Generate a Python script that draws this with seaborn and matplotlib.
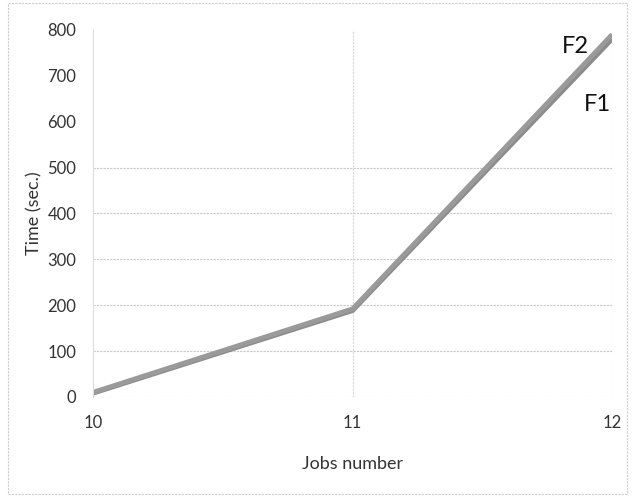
import matplotlib
matplotlib.use("Agg")
import matplotlib.pyplot as plt
import seaborn as sns
import pandas as pd
from matplotlib.patches import Rectangle

jobs = [10, 11, 12]
f1_time = [8, 188, 780]
f2_time = [10, 192, 790]
series_names = ["F1", "F2"]
y_ticks = [0, 100, 200, 300, 400, 500, 600, 700, 800]
x_ticks = [10, 11, 12]

df = pd.DataFrame({
    "Jobs number": jobs * 2,
    "Time (sec.)": f1_time + f2_time,
    "series": [series_names[0]] * 3 + [series_names[1]] * 3,
})

sns.set_theme(style="white")
plt.rcParams["font.family"] = ["Lato", "DejaVu Sans"]

fig = plt.figure(figsize=(6.33, 4.98), dpi=100)
ax = fig.add_axes([0.147, 0.203, 0.820, 0.737])

sns.lineplot(data=df, x="Jobs number", y="Time (sec.)", hue="series",
             palette={"F1": "#8c8c8c", "F2": "#9a9a9a"}, linewidth=3.4,
             legend=False, ax=ax)
for ln in ax.get_lines():
    ln.set_solid_capstyle("butt")

ax.set_xlim(10, 12)
ax.set_ylim(0, 800)
ax.set_xticks(x_ticks)
ax.set_yticks(y_ticks)
ax.tick_params(axis="both", length=0, labelsize=12, colors="#333333")
ax.tick_params(axis="y", pad=12)
ax.tick_params(axis="x", pad=13)

# horizontal gridlines and a vertical one at 11
for v in y_ticks[1:6]:
    ax.axhline(v, color="#c8c8c8", lw=0.8, ls=(0, (2, 1)), zorder=0)
ax.axvline(11, color="#d8d8d8", lw=0.8, ls=(0, (2, 1)), zorder=0)
ax.axhline(0, color="#d0d0d0", lw=0.8, ls=(0, (2, 1)), zorder=0)

for side in ["top", "right"]:
    ax.spines[side].set_visible(False)
ax.spines["left"].set_color("#dddddd")
ax.spines["left"].set_linestyle((0, (2, 1)))
ax.spines["left"].set_linewidth(0.8)
ax.spines["bottom"].set_visible(False)
ax.axvline(12, color="#dddddd", lw=0.8, ls=(0, (2, 1)), zorder=0)

ax.set_xlabel("Jobs number", fontsize=13, color="#333333", labelpad=18)
ax.set_ylabel("Time (sec.)", fontsize=13, color="#333333", labelpad=4)

ax.annotate(series_names[1], xy=(jobs[-1], f2_time[-1]), xytext=(-36, -13),
            textcoords="offset points", fontsize=17, color="#111111")
ax.annotate(series_names[0], xy=(jobs[-1], f1_time[-1]), xytext=(-20, -52),
            textcoords="offset points", fontsize=17, color="#111111")

fig.patches.append(Rectangle((0.012, 0.008), 0.978, 0.985, transform=fig.transFigure,
                             fill=False, edgecolor="#cccccc", lw=0.8,
                             ls=(0, (2, 1))))

fig.savefig("out.png", dpi=100)
